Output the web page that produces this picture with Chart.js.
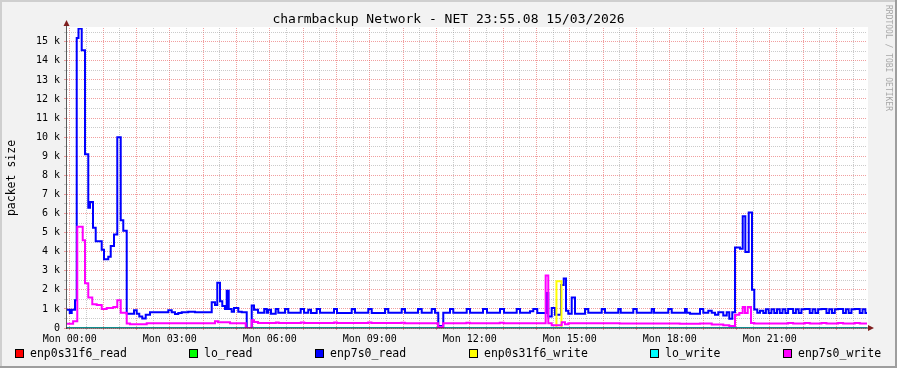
<!DOCTYPE html>
<html>
<head>
<meta charset="utf-8">
<script src="https://cdn.jsdelivr.net/npm/chart.js@4"></script>
<style>
  html, body { margin: 0; padding: 0; background: #f2f2f2; }
  canvas { display: block; }
</style>
</head>
<body>
<canvas id="net" width="897" height="368"></canvas>
<script>
// time is in minutes from Mon 00:00, graph runs Sun 23:55 -> Mon 23:55
const startMinute = -5;
const endMinute = 1435;

const titleText = 'charmbackup Network - NET 23:55.08 15/03/2026';
const yTitle = 'packet size';

const xLabelMinutes = [0, 180, 360, 540, 720, 900, 1080, 1260];
const xLabels = ['Mon 00:00', 'Mon 03:00', 'Mon 06:00', 'Mon 09:00', 'Mon 12:00', 'Mon 15:00', 'Mon 18:00', 'Mon 21:00'];
const yTickLabels = ['0', '1 k', '2 k', '3 k', '4 k', '5 k', '6 k', '7 k', '8 k', '9 k', '10 k', '11 k', '12 k', '13 k', '14 k', '15 k'];
const yMax = 15720;

const seriesNames = ['enp0s31f6_read', 'lo_read', 'enp7s0_read', 'enp0s31f6_write', 'lo_write', 'enp7s0_write'];
const seriesColors = ['#ff0000', '#00ff00', '#0000ff', '#ffff00', '#00ffff', '#ff00ff'];

// [minute, value] change points, each value holds until the next one
const enp0s31f6Read = [[-5, 0]];
const loRead = [[-5, 0]];
const loWrite = [[-5, 0]];
const enp0s31f6Write = [[-5, 0], [876, 2450], [885, 0]];

const enp7s0Read = [
    [-5, 950], [0, 780], [3.5, 950], [9.4, 1450], [12.5, 15200], [15.7, 15700], [21.5, 14550], [27.4, 9100],
    [33.3, 6300], [36.4, 6600], [41.8, 5250], [46.7, 4550], [57.5, 4100], [61.6, 3600], [69.3, 3730], [73.7, 4300],
    [79.6, 4900], [85.5, 10000], [91.7, 5650], [96.3, 5100], [102.5, 750], [115.6, 930], [120.5, 750], [125.1, 600],
    [130.5, 500], [136.7, 700], [144.4, 820], [177.3, 930], [183.5, 820], [189.4, 730], [195.3, 780], [201.5, 820],
    [213.3, 850], [225.4, 820], [255.5, 1350], [261.4, 1200], [265.5, 2370], [270.4, 1400], [274.5, 1150], [279.4, 1000],
    [282.5, 1950], [286.1, 1000], [291.5, 850], [295.6, 1050], [303.3, 850], [309.5, 820], [318.5, 0], [327.5, 1180],
    [331.6, 950], [338.8, 800], [350, 1000], [354.5, 800], [357.3, 950], [362.2, 750], [370.7, 1000], [375.3, 800],
    [387.4, 1000], [393.3, 800], [415.7, 1000], [421.6, 800], [429.3, 950], [434.2, 780], [444.5, 1000], [450.4, 800],
    [475.6, 1000], [481, 780], [507.5, 1000], [513.4, 800], [537.3, 1000], [543.5, 780], [567.4, 1000], [573.3, 800],
    [597.5, 1000], [603.4, 800], [626.8, 1000], [633.5, 800], [651.5, 1000], [657.4, 800], [663.3, 100], [672.3, 800],
    [684.4, 1000], [690.3, 800], [714.5, 1000], [720.4, 800], [743.8, 1000], [751, 800], [774.4, 1000], [781.6, 800],
    [804.5, 1000], [810.4, 800], [828.4, 880], [834.3, 1000], [841.5, 780], [858.4, 1830], [861.3, 600], [867.5, 1050],
    [873.4, 700], [884.2, 2250], [889.1, 2600], [893.2, 900], [897.3, 750], [903.5, 1600], [909.4, 750], [927.4, 1000],
    [933.3, 800], [957.5, 1000], [963.4, 800], [987.3, 1000], [991.7, 800], [1014.3, 1000], [1020.5, 800], [1047.5, 1000],
    [1051.6, 800], [1077.3, 1000], [1083.5, 800], [1107.4, 1000], [1110.5, 800], [1116.4, 750], [1134.4, 1000], [1140.3, 800],
    [1149.3, 900], [1155.5, 800], [1161.4, 700], [1167.3, 820], [1176.3, 650], [1182.5, 820], [1187.1, 480], [1192.5, 820],
    [1197.4, 4220], [1206.4, 4150], [1211.3, 5850], [1216, 3980], [1222.1, 6050], [1228, 2000], [1232.1, 970], [1237.5, 800],
    [1242.4, 900], [1248.3, 780], [1253, 980], [1258, 780], [1263, 980], [1268, 780], [1273, 980], [1278, 780],
    [1283, 980], [1288, 780], [1293, 1000], [1302, 780], [1307, 980], [1312, 780], [1317, 980], [1323, 1000],
    [1332, 780], [1337, 980], [1342, 780], [1347, 980], [1353, 1000], [1362, 780], [1367, 980], [1372, 780],
    [1377, 980], [1383, 1000], [1392, 780], [1397, 980], [1402, 780], [1407, 980], [1413, 1000], [1422, 780],
    [1427, 980], [1432, 780]
];

const enp7s0Write = [
    [-5, 220], [6, 350], [13.5, 5300], [23.3, 4600], [27.4, 2350], [33.3, 1600], [40.5, 1250], [48.5, 1200],
    [57.5, 1000], [66.5, 1050], [78.3, 1100], [85.5, 1450], [91.7, 800], [102.5, 230], [108.4, 200], [138.5, 250],
    [261.4, 350], [266.8, 300], [288.4, 250], [316.7, 0], [327.5, 400], [331.6, 320], [338.8, 260], [371, 290],
    [376, 260], [416, 290], [422, 260], [476, 290], [481, 260], [537, 290], [543, 260], [597, 280],
    [603, 250], [663, 50], [672, 250], [714, 280], [720, 250], [774, 280], [781, 250], [856.6, 2750],
    [861.3, 250], [867.5, 150], [885.5, 300], [891.4, 200], [897.3, 250], [990, 240], [1098, 220], [1134.4, 230],
    [1155.5, 180], [1176.3, 150], [1187.1, 100], [1197.4, 700], [1205.2, 780], [1211.3, 1100], [1215.4, 780], [1220.3, 1100],
    [1226.2, 260], [1232.1, 230], [1293, 260], [1302, 230], [1323, 260], [1332, 230], [1353, 260], [1362, 230],
    [1383, 260], [1392, 230], [1413, 260], [1422, 230]
];

const seriesSteps = [enp0s31f6Read, loRead, enp7s0Read, enp0s31f6Write, loWrite, enp7s0Write];

function toPoints(steps) {
    const pts = steps.map(([t, v]) => ({ x: t, y: v }));
    pts.push({ x: endMinute, y: steps[steps.length - 1][1] });
    return pts;
}

const xGridMinutes = [];
for (let m = 0; m < endMinute; m += 30) xGridMinutes.push(m);
const yGridValues = [];
for (let v = 0; v <= 15500; v += 500) yGridValues.push(v);

const FONT = 'DejaVu Sans Mono';
const majorGrid = 'rgba(230, 80, 80, 0.55)';
const minorGrid = 'rgba(140, 140, 140, 0.45)';

const rrdDecor = {
    id: 'rrdDecor',
    beforeDraw(chart) {
        const { ctx, chartArea: a, width: W, height: H } = chart;
        ctx.save();
        ctx.fillStyle = '#f2f2f2';
        ctx.fillRect(0, 0, W, H);
        ctx.fillStyle = '#cfcfcf';
        ctx.fillRect(0, 0, W, 2);
        ctx.fillRect(0, 0, 2, H);
        ctx.fillStyle = '#9e9e9e';
        ctx.fillRect(0, H - 2, W, 2);
        ctx.fillRect(W - 2, 0, 2, H);
        ctx.fillStyle = '#ffffff';
        ctx.fillRect(a.left, a.top - 1, a.right - a.left + 1, a.bottom - a.top + 1);
        ctx.restore();
    },
    afterDatasetsDraw(chart) {
        const { ctx, chartArea: a } = chart;
        ctx.save();
        // y axis
        ctx.strokeStyle = '#5a5a5a';
        ctx.lineWidth = 1;
        ctx.beginPath();
        ctx.moveTo(a.left - 0.5, a.bottom + 1);
        ctx.lineTo(a.left - 0.5, a.top - 3);
        ctx.stroke();
        // x axis over the zero lines
        ctx.fillStyle = 'rgba(30, 30, 30, 0.5)';
        ctx.fillRect(a.left - 1, a.bottom - 1, a.right - a.left + 3, 2);
        // arrows
        ctx.fillStyle = '#7f1f1f';
        ctx.beginPath();
        ctx.moveTo(a.left - 3.5, a.top - 2);
        ctx.lineTo(a.left + 2.5, a.top - 2);
        ctx.lineTo(a.left - 0.5, a.top - 8);
        ctx.closePath();
        ctx.fill();
        ctx.beginPath();
        ctx.moveTo(a.right + 1, a.bottom - 3);
        ctx.lineTo(a.right + 1, a.bottom + 3);
        ctx.lineTo(a.right + 7, a.bottom);
        ctx.closePath();
        ctx.fill();
        ctx.restore();
    },
    afterDraw(chart) {
        const { ctx, chartArea: a, width: W } = chart;
        ctx.save();
        ctx.fillStyle = '#000';
        ctx.textBaseline = 'middle';
        ctx.textAlign = 'center';
        ctx.font = '13px "' + FONT + '"';
        ctx.fillText(titleText, W / 2, 19.5);

        ctx.save();
        ctx.translate(12, (a.top + a.bottom) / 2);
        ctx.rotate(-Math.PI / 2);
        ctx.font = '11.5px "' + FONT + '"';
        ctx.fillText(yTitle, 0, 0);
        ctx.restore();

        ctx.save();
        ctx.translate(888, 5);
        ctx.rotate(Math.PI / 2);
        ctx.textAlign = 'left';
        ctx.fillStyle = '#a8a8a8';
        ctx.font = '8px "' + FONT + '"';
        ctx.fillText('RRDTOOL / TOBI OETIKER', 0, 0);
        ctx.restore();

        // legend
        const boxX = [15, 189, 315, 469, 650, 783];
        ctx.textAlign = 'left';
        ctx.font = '11.5px "' + FONT + '"';
        chart.data.datasets.forEach((ds, i) => {
            const x = boxX[i];
            ctx.fillStyle = ds.borderColor;
            ctx.fillRect(x, 349, 9, 9);
            ctx.strokeStyle = '#000';
            ctx.lineWidth = 1;
            ctx.strokeRect(x + 0.5, 349.5, 8, 8);
            ctx.fillStyle = '#000';
            ctx.fillText(ds.label, x + 15, 354);
        });
        ctx.restore();
    }
};

new Chart(document.getElementById('net').getContext('2d'), {
    type: 'line',
    data: {
        datasets: seriesSteps.map((steps, i) => ({
            label: seriesNames[i],
            data: toPoints(steps),
            borderColor: seriesColors[i],
            backgroundColor: seriesColors[i],
            borderWidth: 2,
            pointRadius: 0,
            stepped: true,
            fill: false,
            order: seriesSteps.length - i
        }))
    },
    options: {
        responsive: false,
        devicePixelRatio: 1,
        animation: false,
        events: [],
        layout: { padding: { top: 28, right: 30, bottom: 0, left: 0 } },
        plugins: {
            legend: { display: false },
            title: { display: false },
            tooltip: { enabled: false }
        },
        scales: {
            x: {
                type: 'linear',
                min: startMinute,
                max: endMinute,
                afterBuildTicks: (axis) => { axis.ticks = xGridMinutes.map(v => ({ value: v })); },
                afterFit: (axis) => { axis.height = 40; },
                ticks: {
                    autoSkip: false,
                    maxRotation: 0,
                    minRotation: 0,
                    padding: 3,
                    color: '#000',
                    font: { family: FONT, size: 10 },
                    callback: (value) => {
                        const k = xLabelMinutes.indexOf(value);
                        return k >= 0 ? xLabels[k] : '';
                    }
                },
                grid: {
                    color: (c) => (c.tick && c.tick.value % 60 === 0 ? majorGrid : minorGrid),
                    lineWidth: 1,
                    drawTicks: true,
                    tickLength: 2
                },
                border: { display: false, dash: [1, 1] }
            },
            y: {
                type: 'linear',
                min: 0,
                max: yMax,
                afterBuildTicks: (axis) => { axis.ticks = yGridValues.map(v => ({ value: v })); },
                afterFit: (axis) => { axis.width = 67; },
                ticks: {
                    autoSkip: false,
                    padding: 4,
                    color: '#000',
                    font: { family: FONT, size: 10 },
                    callback: (value) => (value % 1000 === 0 ? yTickLabels[value / 1000] : '')
                },
                grid: {
                    color: (c) => (c.tick && c.tick.value % 1000 === 0 ? majorGrid : minorGrid),
                    lineWidth: 1,
                    drawTicks: true,
                    tickLength: 3
                },
                border: { display: false, dash: [1, 1] }
            }
        }
    },
    plugins: [rrdDecor]
});
</script>
</body>
</html>
